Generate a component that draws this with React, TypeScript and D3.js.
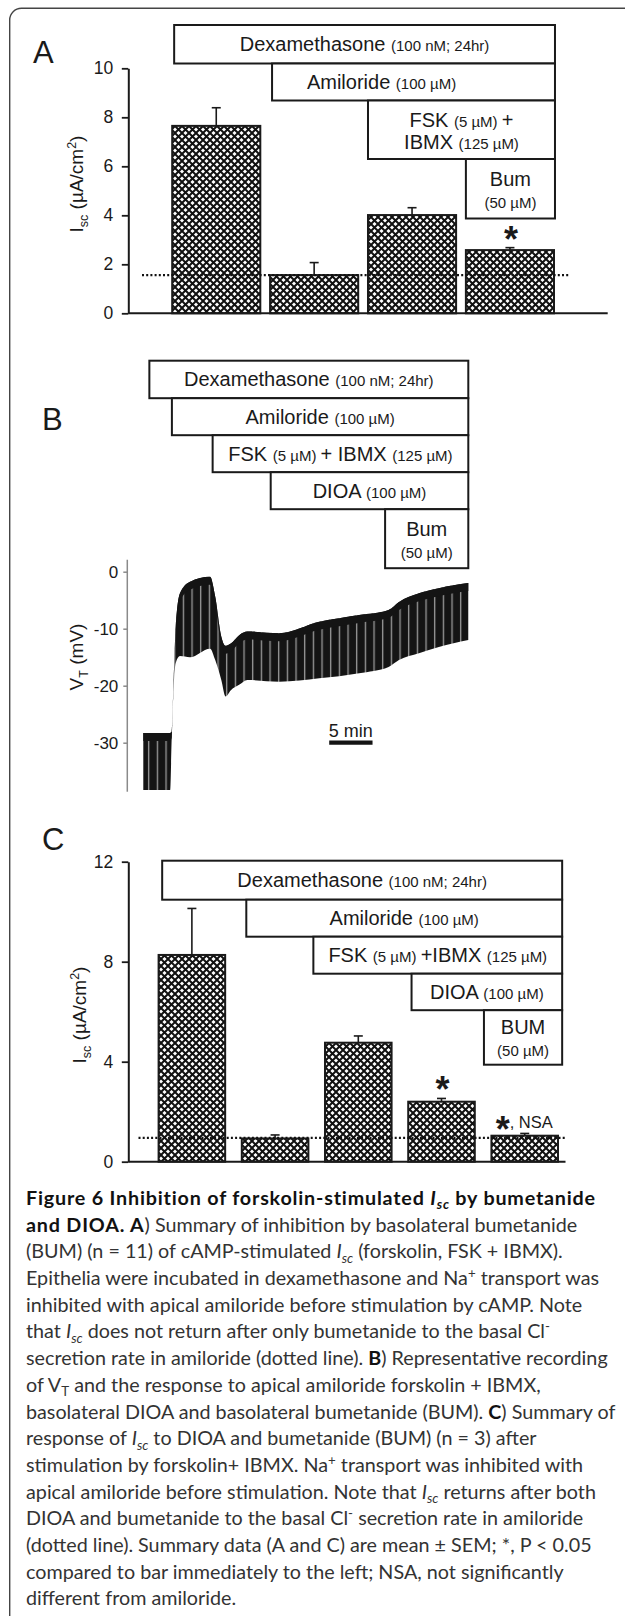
import React, { useEffect, useRef } from "react";
import * as d3 from "d3";

// Panel A: Isc summary, bumetanide after FSK + IBMX (n = 11)
const conditionsA = ["Dex", "Amil", "FSK+IBMX", "Bum"];
const meanA = [7.65, 1.56, 4.01, 2.58];
const semA = [0.74, 0.51, 0.3, 0.1];
const sigA = ["", "", "", "*"];
const amilLevelA = 1.56;
const ticksA = [0, 2, 4, 6, 8, 10];
// box labels: segments alternate big / small text
const boxLabelsA = [
  [["Dexamethasone ", "(100 nM; 24hr)"]],
  [["Amiloride ", "(100 µM)"]],
  [["FSK ", "(5 µM) ", "+"], ["IBMX ", "(125 µM)"]],
  [["Bum"], ["", "(50 µM)"]],
];
const boxStartA = [0.02, 1.02, 2.0, 3.0]; // in bar steps
const boxEndA = 3.91;

// Panel B: representative VT recording (min, mV)
const traceTime = [0, 3.1, 3.28, 3.46, 3.74, 4.23, 5.39, 7.7, 8.3, 9.0, 9.5, 10.1, 11.1, 12.0, 15.7, 20.3, 24.9, 28.3, 29.5, 31.8, 34.1, 37.5];
const traceTop = [-28.3, -28.3, -28.0, -21.0, -9.6, -3.8, -1.75, -0.9, -4.4, -11.4, -13.0, -12.6, -11.1, -10.5, -10.8, -8.8, -7.6, -6.7, -5.3, -3.8, -2.9, -2.0];
const traceBottom = [-38.3, -38.3, -29.0, -21.5, -16.0, -14.8, -15.0, -13.5, -15.5, -19.0, -21.9, -20.8, -19.8, -19.0, -19.3, -18.7, -17.8, -16.7, -15.5, -14.3, -13.2, -12.0];
const ticksB = [0, -10, -20, -30];
const boxLabelsB = [
  [["Dexamethasone ", "(100 nM; 24hr)"]],
  [["Amiloride ", "(100 µM)"]],
  [["FSK ", "(5 µM) ", "+ IBMX ", "(125 µM)"]],
  [["DIOA ", "(100 µM)"]],
  [["Bum"], ["", "(50 µM)"]],
];
const boxStartB = [0.7, 3.3, 8.0, 14.7, 27.9]; // min
const boxEndB = 37.5;
const scaleBarMin = [21.45, 26.45];

// Panel C: Isc summary, DIOA then bumetanide (n = 3)
const conditionsC = ["Dex", "Amil", "FSK+IBMX", "DIOA", "BUM"];
const meanC = [8.27, 0.93, 4.76, 2.4, 1.04];
const semC = [1.86, 0.14, 0.27, 0.13, 0.09];
const sigC = ["", "", "", "*", "*, NSA"];
const amilLevelC = 0.95;
const ticksC = [0, 4, 8, 12];
const boxLabelsC = [
  [["Dexamethasone ", "(100 nM; 24hr)"]],
  [["Amiloride ", "(100 µM)"]],
  [["FSK ", "(5 µM) ", "+IBMX ", "(125 µM)"]],
  [["DIOA ", "(100 µM)"]],
  [["BUM"], ["", "(50 µM)"]],
];
const boxStartC = [0.043, 1.054, 1.86, 3.04, 3.91];
const boxEndC = 4.85;

// caption: [text, flags] with b = bold, i = italic, sub / sup
const caption = [
  [["Figure 6 Inhibition of forskolin-stimulated ", "b"], ["I", "b i"], ["sc", "b i sub"], [" by bumetanide", "b"]],
  [["and DIOA. A", "b"], [") Summary of inhibition by basolateral bumetanide", ""]],
  [["(BUM) (n = 11) of cAMP-stimulated ", ""], ["I", "i"], ["sc", "i sub"], [" (forskolin, FSK + IBMX).", ""]],
  [["Epithelia were incubated in dexamethasone and Na", ""], ["+", "sup"], [" transport was", ""]],
  [["inhibited with apical amiloride before stimulation by cAMP. Note", ""]],
  [["that ", ""], ["I", "i"], ["sc", "i sub"], [" does not return after only bumetanide to the basal Cl", ""], ["-", "sup"]],
  [["secretion rate in amiloride (dotted line). ", ""], ["B", "b"], [") Representative recording", ""]],
  [["of V", ""], ["T", "sub"], [" and the response to apical amiloride forskolin + IBMX,", ""]],
  [["basolateral DIOA and basolateral bumetanide (BUM). ", ""], ["C", "b"], [") Summary of", ""]],
  [["response of ", ""], ["I", "i"], ["sc", "i sub"], [" to DIOA and bumetanide (BUM) (n = 3) after", ""]],
  [["stimulation by forskolin+ IBMX. Na", ""], ["+", "sup"], [" transport was inhibited with", ""]],
  [["apical amiloride before stimulation. Note that ", ""], ["I", "i"], ["sc", "i sub"], [" returns after both", ""]],
  [["DIOA and bumetanide to the basal Cl", ""], ["-", "sup"], [" secretion rate in amiloride", ""]],
  [["(dotted line). Summary data (A and C) are mean ± SEM; *, P < 0.05", ""]],
  [["compared to bar immediately to the left; NSA, not significantly", ""]],
  [["different from amiloride.", ""]],
];

const FONT = "'Liberation Sans', Arial, Helvetica, sans-serif";
const CAP_FONT = "Lato, 'Open Sans', sans-serif";
const INK = "#1a1a1a";

function drawBoxes(g, xOf, starts, end, top, heights, labels, textDx) {
  let y = top;
  starts.forEach((s, i) => {
    const x0 = xOf(s), x1 = xOf(end), h = heights[i];
    g.append("rect")
      .attr("x", x0).attr("y", y).attr("width", x1 - x0).attr("height", h)
      .attr("fill", "#fff").attr("stroke", INK).attr("stroke-width", 2);
    const cy = y + h / 2;
    const lines = labels[i];
    const bl = lines.length === 1 ? [cy + 7] : [cy - 3, cy + 19];
    lines.forEach((segs, j) => {
      const t = g.append("text")
        .attr("x", (x0 + x1) / 2 + (textDx[i] || 0)).attr("y", bl[j])
        .attr("text-anchor", "middle").attr("font-family", FONT)
        .attr("fill", INK).style("white-space", "pre");
      segs.forEach((s, k) => {
        if (s) t.append("tspan").attr("font-size", k % 2 === 0 ? 20 : 15).text(s);
      });
    });
    y += h;
  });
}

function drawYLabel(g, x, y, parts) {
  const t = g.append("text")
    .attr("transform", `translate(${x},${y}) rotate(-90)`)
    .attr("text-anchor", "middle").attr("font-family", FONT)
    .attr("fill", INK).style("white-space", "pre");
  let shift = 0;
  parts.forEach(([s, kind]) => {
    const target = kind === "sub" ? 5 : kind === "sup" ? -7 : 0;
    t.append("tspan")
      .attr("dy", target - shift)
      .attr("font-size", kind ? 12.5 : 19)
      .text(s);
    shift = target;
  });
}

// bold asterisk centred (by its ink box) on cx, cy
function star(g, cx, cy, size) {
  const t = g.append("text").attr("x", cx).attr("y", cy).attr("text-anchor", "middle")
    .attr("font-family", FONT).attr("font-weight", "bold").attr("font-size", size)
    .attr("fill", INK).text("*");
  const b = t.node().getBBox();
  // ink of "*" sits in the upper part of the em box
  const inkMid = b.y + b.height * 0.33;
  t.attr("y", cy + (cy - inkMid));
}

function drawBarPanel(svg, o) {
  const g = svg.append("g");
  const { x, y } = o;
  // y axis
  const ax = g.append("g")
    .attr("transform", `translate(${o.axisX},0)`)
    .call(d3.axisLeft(y).tickValues(o.ticks).tickSize(6.5).tickSizeOuter(0).tickPadding(8.5).tickFormat(d => String(d)));
  ax.select(".domain").attr("stroke", INK).attr("stroke-width", 2);
  ax.selectAll(".tick line").attr("stroke", INK).attr("stroke-width", 1.8);
  ax.selectAll(".tick text").attr("font-family", FONT).attr("font-size", 17.5).attr("fill", INK);

  // bars
  g.selectAll("rect.bar")
    .data(o.cats)
    .join("rect")
    .attr("class", "bar")
    .attr("x", d => x(d))
    .attr("y", (d, i) => y(o.means[i]))
    .attr("width", x.bandwidth())
    .attr("height", (d, i) => y(0) - y(o.means[i]))
    .attr("fill", "url(#hatch)")
    .attr("stroke", INK).attr("stroke-width", 2);

  // error bars (upper only)
  o.cats.forEach((c, i) => {
    const cx = x(c) + x.bandwidth() / 2;
    const y1 = y(o.means[i] + o.sems[i]);
    g.append("line").attr("x1", cx).attr("x2", cx).attr("y1", y(o.means[i])).attr("y2", y1)
      .attr("stroke", INK).attr("stroke-width", 1.6);
    g.append("line").attr("x1", cx - 4.5).attr("x2", cx + 4.5).attr("y1", y1).attr("y2", y1)
      .attr("stroke", INK).attr("stroke-width", 1.6);
    const sig = o.sig[i];
    if (sig === "*") {
      star(g, cx + 1, y1 - 15.5, 36);
    } else if (sig) {
      star(g, cx - 22, y1 - 10.5, 36);
      g.append("text").attr("x", cx - 15).attr("y", y1 - 5)
        .attr("font-family", FONT).attr("font-size", 16.5).attr("fill", INK).text(sig.slice(1));
    }
  });

  // x axis
  g.append("line").attr("x1", o.axisX).attr("x2", o.axisEnd).attr("y1", y(0)).attr("y2", y(0))
    .attr("stroke", INK).attr("stroke-width", 2);

  // amiloride level
  g.append("line").attr("x1", o.dotFrom).attr("x2", o.dotTo).attr("y1", y(o.level)).attr("y2", y(o.level))
    .attr("stroke", "#111").attr("stroke-width", 2.3).attr("stroke-dasharray", "2 2.2");

  const xOf = u => x.range()[0] + u * x.step();
  drawBoxes(g, xOf, o.boxStart, o.boxEnd, o.boxTop, o.boxHeights, o.boxLabels, o.boxDx || []);
  drawYLabel(g, o.labelX, o.labelY, [["I", ""], ["sc", "sub"], [" (µA/cm", ""], ["2", "sup"], [")", ""]]);
}

export default function App() {
  const ref = useRef(null);

  useEffect(() => {
    const svg = d3.select(ref.current);
    svg.selectAll("*").remove();

    const defs = svg.append("defs");
    const hatch = defs.append("pattern").attr("id", "hatch")
      .attr("patternUnits", "userSpaceOnUse").attr("width", 7).attr("height", 7);
    hatch.append("rect").attr("width", 7).attr("height", 7).attr("fill", "#fff");
    hatch.append("path").attr("d", "M-1,-1L8,8M8,-1L-1,8")
      .attr("stroke", "#111").attr("stroke-width", 2);

    // frame
    svg.append("path").attr("d", "M9.7,1616V20A11.7,11.7 0 0 1 21.4,8.3H625")
      .attr("fill", "none").attr("stroke", "#444").attr("stroke-width", 1.4);

    // panel letters
    [["A", 33, 62.7], ["B", 42, 430], ["C", 42, 850]].forEach(([s, px, py]) => {
      svg.append("text").attr("x", px).attr("y", py).attr("font-family", FONT)
        .attr("font-size", 31).attr("fill", INK).text(s);
    });

    // ---- A
    const xA = d3.scaleBand().domain(conditionsA).range([172.2, 554]).paddingInner(0.1).paddingOuter(0);
    const yA = d3.scaleLinear().domain([0, 10]).range([313.3, 68.3]);
    drawBarPanel(svg, {
      x: xA, y: yA, cats: conditionsA, means: meanA, sems: semA, sig: sigA, ticks: ticksA,
      level: amilLevelA, axisX: 128.3, axisEnd: 607.7, dotFrom: 142, dotTo: 569,
      boxStart: boxStartA, boxEnd: boxEndA, boxTop: 25, boxHeights: [38.5, 37, 58.5, 59.5],
      boxLabels: boxLabelsA, boxDx: [0, -32, 0, 0], labelX: 83, labelY: 184,
    });

    // ---- B
    const xB = d3.scaleLinear().domain([0, 37.5]).range([143.3, 468.3]);
    const yB = d3.scaleLinear().domain([-30, 0]).range([742.7, 571.7]);
    const gB = svg.append("g");
    const pw = xB(1) - xB(0);
    const pulses = defs.append("pattern").attr("id", "pulses")
      .attr("patternUnits", "userSpaceOnUse").attr("x", xB(0)).attr("width", pw).attr("height", 20);
    pulses.append("rect").attr("width", pw).attr("height", 20).attr("fill", "#141414");
    pulses.append("rect").attr("x", pw * 0.55).attr("width", 1.3).attr("height", 20).attr("fill", "#9c9c9c");

    const band = d3.area()
      .x((d, i) => xB(traceTime[i]))
      .y0((d, i) => yB(traceBottom[i]))
      .y1((d, i) => yB(traceTop[i]))
      .curve(d3.curveMonotoneX);
    gB.append("path").datum(traceTime).attr("d", band).attr("fill", "url(#pulses)");
    const crest = d3.area()
      .x((d, i) => xB(traceTime[i]))
      .y0((d, i) => yB(Math.max(traceTop[i] - 1.4, traceBottom[i])))
      .y1((d, i) => yB(traceTop[i]))
      .curve(d3.curveMonotoneX);
    gB.append("path").datum(traceTime).attr("d", crest).attr("fill", "#141414");

    const axB = gB.append("g").attr("transform", "translate(127.3,0)")
      .call(d3.axisLeft(yB).tickValues(ticksB).tickSize(4).tickSizeOuter(0).tickPadding(5).tickFormat(d => String(d)));
    axB.select(".domain").remove();
    axB.selectAll(".tick line").attr("stroke", "#8a8a8a").attr("stroke-width", 1.5);
    axB.selectAll(".tick text").attr("font-family", FONT).attr("font-size", 17).attr("fill", INK);
    gB.append("line").attr("x1", 127.3).attr("x2", 127.3).attr("y1", yB(2.1)).attr("y2", yB(-38.6))
      .attr("stroke", "#8a8a8a").attr("stroke-width", 1.5);

    // scale bar
    gB.append("line").attr("x1", xB(scaleBarMin[0])).attr("x2", xB(scaleBarMin[1]))
      .attr("y1", yB(-30)).attr("y2", yB(-30)).attr("stroke", "#141414").attr("stroke-width", 4.3);
    gB.append("text").attr("x", (xB(scaleBarMin[0]) + xB(scaleBarMin[1])) / 2).attr("y", yB(-30) - 6)
      .attr("text-anchor", "middle").attr("font-family", FONT).attr("font-size", 18).attr("fill", INK).text("5 min");

    drawBoxes(gB, xB, boxStartB, boxEndB, 360.7, [37.5, 37, 37, 37, 59], boxLabelsB, []);
    drawYLabel(gB, 83, 657, [["V", ""], ["T", "sub"], [" (mV)", ""]]);

    // ---- C
    const xC = d3.scaleBand().domain(conditionsC).range([158.6, 558]).paddingInner(0.2).paddingOuter(0);
    const yC = d3.scaleLinear().domain([0, 12]).range([1161.7, 861.7]);
    drawBarPanel(svg, {
      x: xC, y: yC, cats: conditionsC, means: meanC, sems: semC, sig: sigC, ticks: ticksC,
      level: amilLevelC, axisX: 128.3, axisEnd: 565.5, dotFrom: 138.5, dotTo: 565,
      boxStart: boxStartC, boxEnd: boxEndC, boxTop: 860.7, boxHeights: [39, 37, 37, 36.5, 54.5],
      boxLabels: boxLabelsC, boxDx: [], labelX: 85.5, labelY: 1015,
    });

    // ---- caption
    const cap = svg.append("g").attr("font-family", CAP_FONT).attr("font-size", 18.5);
    const rows = caption.map((segs, li) => {
      const t = cap.append("text").attr("x", 0).attr("y", 1205 + li * 26.7).style("white-space", "pre");
      let shift = 0;
      segs.forEach(([s, f]) => {
        const flags = f.split(" ");
        const target = flags.includes("sub") ? 4.5 : flags.includes("sup") ? -7 : 0;
        const bold = flags.includes("b");
        const ts = t.append("tspan").attr("dy", target - shift).text(s)
          .attr("fill", bold ? "#111" : "#333");
        if (bold) ts.attr("font-weight", "bold").attr("letter-spacing", li < 2 ? 0.75 : 0);
        if (flags.includes("i")) ts.attr("font-style", "italic");
        if (target !== 0) ts.attr("font-size", 12.5);
        shift = target;
      });
      return t;
    });
    const ref7 = rows[6].node().getComputedTextLength();
    const k = 582 / ref7;
    cap.attr("transform", `translate(26,0) scale(${k},1)`);
  }, []);

  return (
    <div style={{ position: "absolute", left: 0, top: 0 }}>
      <svg ref={ref} width={625} height={1616} style={{ display: "block", background: "#fff" }} />
    </div>
  );
}
